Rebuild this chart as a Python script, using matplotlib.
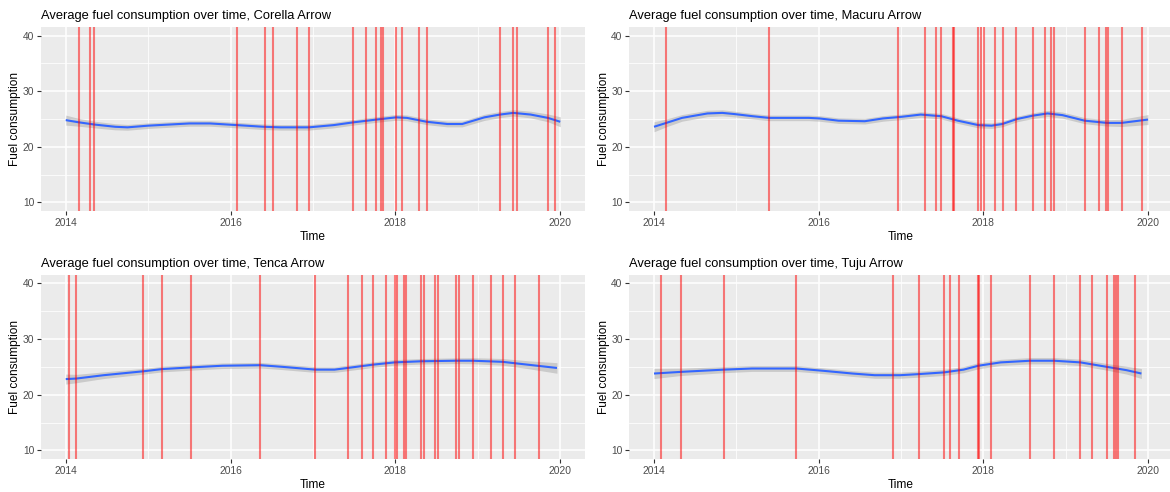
import matplotlib
matplotlib.use("Agg")
import matplotlib.pyplot as plt
import numpy as np

plt.rcParams['font.family'] = ['Liberation Sans', 'DejaVu Sans']

vessels = ["Corella Arrow", "Macuru Arrow", "Tenca Arrow", "Tuju Arrow"]

# Event dates (red vertical lines), decimal years
corella_events = [2014.16, 2014.30, 2014.34, 2016.08, 2016.42, 2016.51, 2016.80, 2016.95,
                  2017.49, 2017.64, 2017.77, 2017.82, 2017.85, 2018.01, 2018.08, 2018.28,
                  2018.38, 2019.27, 2019.43, 2019.48, 2019.85, 2019.94]
macuru_events = [2014.15, 2015.40, 2016.96, 2017.29, 2017.42, 2017.49, 2017.63, 2017.64,
                 2017.94, 2017.97, 2018.01, 2018.14, 2018.24, 2018.40, 2018.60, 2018.75,
                 2018.82, 2018.86, 2019.23, 2019.40, 2019.49, 2019.52, 2019.68, 2019.93]
tenca_events = [2014.04, 2014.13, 2014.94, 2015.17, 2015.52, 2016.36, 2017.03, 2017.42,
                2017.60, 2017.73, 2017.89, 2017.99, 2018.02, 2018.11, 2018.13, 2018.31,
                2018.35, 2018.48, 2018.52, 2018.73, 2018.77, 2018.94, 2019.16, 2019.30,
                2019.45, 2019.74]
tuju_events = [2014.09, 2014.33, 2014.85, 2015.73, 2016.90, 2017.22, 2017.52, 2017.60,
               2017.70, 2017.94, 2017.95, 2018.09, 2018.57, 2018.86, 2019.18, 2019.32,
               2019.50, 2019.59, 2019.61, 2019.63, 2019.84]

# Smoothed fuel consumption (blue line) and its ribbon half-width
corella_t = [2014.00, 2014.16, 2014.35, 2014.60, 2014.75, 2015.00, 2015.50, 2015.75, 2016.08,
             2016.40, 2016.60, 2016.95, 2017.25, 2017.49, 2017.77, 2018.01, 2018.14, 2018.38,
             2018.63, 2018.81, 2019.08, 2019.27, 2019.43, 2019.64, 2019.85, 2020.00]
corella_fc = [24.8, 24.4, 24.0, 23.6, 23.5, 23.8, 24.2, 24.2, 23.9,
              23.6, 23.5, 23.5, 23.9, 24.4, 24.9, 25.3, 25.2, 24.5,
              24.1, 24.1, 25.3, 25.8, 26.1, 25.8, 25.2, 24.5]
corella_se = [0.90, 0.70, 0.60, 0.55, 0.52, 0.50, 0.50, 0.50, 0.50,
              0.50, 0.50, 0.50, 0.50, 0.50, 0.50, 0.52, 0.52, 0.52,
              0.52, 0.52, 0.55, 0.55, 0.57, 0.60, 0.70, 0.90]

macuru_t = [2014.00, 2014.15, 2014.34, 2014.65, 2014.83, 2014.97, 2015.20, 2015.40, 2015.88,
            2016.01, 2016.24, 2016.56, 2016.78, 2017.01, 2017.24, 2017.49, 2017.69, 2017.94,
            2018.10, 2018.23, 2018.41, 2018.60, 2018.78, 2018.96, 2019.23, 2019.50, 2019.68,
            2020.00]
macuru_fc = [23.6, 24.3, 25.2, 26.0, 26.1, 25.9, 25.5, 25.2, 25.2,
             25.1, 24.7, 24.6, 25.1, 25.4, 25.8, 25.5, 24.7, 23.9,
             23.8, 24.1, 25.0, 25.6, 26.0, 25.7, 24.7, 24.3, 24.3,
             24.9]
macuru_se = [0.90, 0.70, 0.60, 0.57, 0.55, 0.52, 0.50, 0.50, 0.50,
             0.50, 0.50, 0.50, 0.50, 0.50, 0.50, 0.50, 0.50, 0.50,
             0.50, 0.50, 0.50, 0.52, 0.55, 0.55, 0.55, 0.57, 0.65,
             0.90]

tenca_t = [2014.00, 2014.13, 2014.46, 2014.94, 2015.17, 2015.52, 2015.90, 2016.36, 2016.63,
           2017.03, 2017.26, 2017.42, 2017.73, 2017.99, 2018.31, 2018.73, 2018.94, 2019.30,
           2019.60, 2019.96]
tenca_fc = [22.8, 22.9, 23.5, 24.2, 24.6, 24.9, 25.2, 25.3, 25.0,
            24.5, 24.5, 24.8, 25.4, 25.8, 26.0, 26.1, 26.1, 25.9,
            25.4, 24.8]
tenca_se = [0.90, 0.75, 0.60, 0.52, 0.50, 0.50, 0.50, 0.50, 0.50,
            0.50, 0.50, 0.50, 0.50, 0.50, 0.50, 0.52, 0.55, 0.60,
            0.70, 0.95]

tuju_t = [2014.00, 2014.33, 2014.85, 2015.19, 2015.73, 2016.05, 2016.41, 2016.68, 2016.99,
          2017.22, 2017.52, 2017.76, 2017.94, 2018.21, 2018.57, 2018.86, 2019.18, 2019.50,
          2019.74, 2019.92]
tuju_fc = [23.8, 24.1, 24.5, 24.7, 24.7, 24.3, 23.8, 23.5, 23.5,
           23.7, 24.0, 24.5, 25.2, 25.8, 26.1, 26.1, 25.8, 25.0,
           24.4, 23.8]
tuju_se = [0.90, 0.65, 0.55, 0.52, 0.52, 0.52, 0.52, 0.55, 0.55,
           0.55, 0.55, 0.55, 0.55, 0.55, 0.57, 0.57, 0.57, 0.60,
           0.70, 0.90]

x_ticks = [2014, 2016, 2018, 2020]
x_minor = [2015, 2017, 2019]
y_ticks = [10, 20, 30, 40]
y_minor = [15, 25, 35]

panels = [
    (vessels[0], corella_events, corella_t, corella_fc, corella_se),
    (vessels[1], macuru_events, macuru_t, macuru_fc, macuru_se),
    (vessels[2], tenca_events, tenca_t, tenca_fc, tenca_se),
    (vessels[3], tuju_events, tuju_t, tuju_fc, tuju_se),
]

W, H = 1170, 492
fig = plt.figure(figsize=(W / 100, H / 100), dpi=100)

positions = [
    (41, 27.3, 585, 210.7),
    (629.3, 27.3, 1172.7, 210.7),
    (41, 275, 585, 458.7),
    (629.3, 275, 1172.7, 458.7),
]

for (name, events, t, fc, se), (l, tp, r, b) in zip(panels, positions):
    ax = fig.add_axes([l / W, 1 - b / H, (r - l) / W, (b - tp) / H])
    ax.set_facecolor('#EBEBEB')
    for s in ax.spines.values():
        s.set_visible(False)
    ax.set_xlim(2013.7, 2020.3)
    ax.set_ylim(8.5, 41.5)
    ax.set_xticks(x_ticks)
    ax.set_xticks(x_minor, minor=True)
    ax.set_yticks(y_ticks)
    ax.set_yticks(y_minor, minor=True)
    ax.set_xticklabels([str(v) for v in x_ticks])
    ax.grid(which='major', color='white', linewidth=1.1)
    ax.grid(which='minor', color='white', linewidth=0.55)
    ax.set_axisbelow(True)
    ax.tick_params(which='major', length=3, width=0.8, color='#333333',
                   labelcolor='#4D4D4D', labelsize=7.4, pad=2.5)
    ax.tick_params(axis='y', which='major', pad=1.8)
    ax.tick_params(which='minor', length=0)

    t_arr = np.array(t)
    fc_arr = np.array(fc)
    se_arr = np.array(se)
    ax.fill_between(t_arr, fc_arr - se_arr, fc_arr + se_arr, color='#999999',
                    alpha=0.4, linewidth=0, zorder=2)
    ax.plot(t_arr, fc_arr, color='#3366FF', linewidth=1.5, zorder=3,
            solid_capstyle='butt')
    for e in events:
        ax.axvline(e, color='red', alpha=0.5, linewidth=1.5, zorder=4)

    ax.set_title(f"Average fuel consumption over time, {name}", loc='left',
                 fontsize=9.3, color='black', pad=6)
    ax.set_xlabel("Time", fontsize=8.6, color='black', labelpad=2)
    ax.set_ylabel("Fuel consumption", fontsize=8.6, color='black')
    ax.yaxis.set_label_coords(-19.5 / (r - l), 0.5)

fig.savefig("out.png", dpi=100)
